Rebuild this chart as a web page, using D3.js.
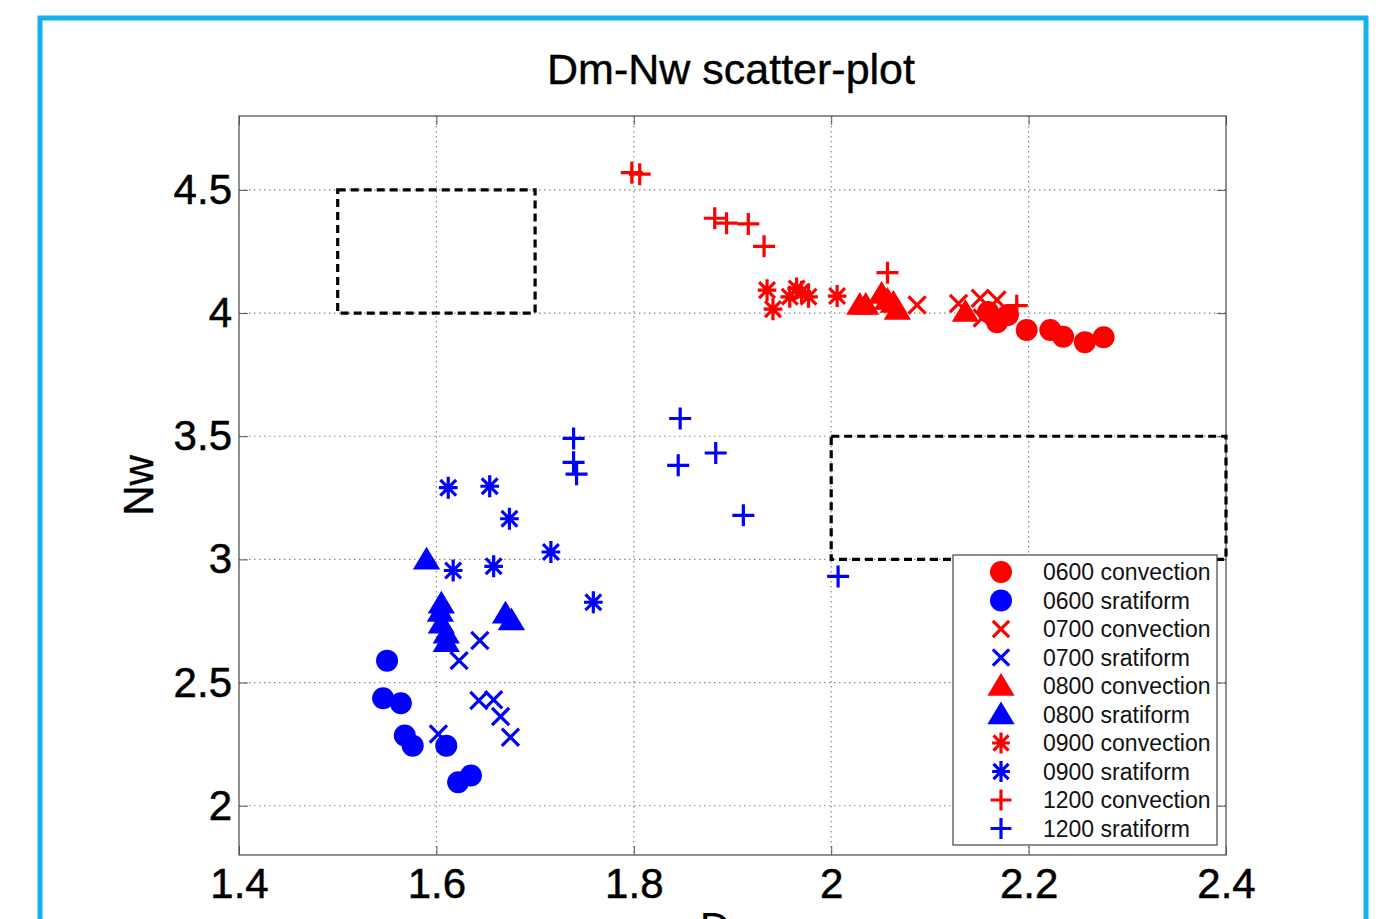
<!DOCTYPE html>
<html>
<head>
<meta charset="utf-8">
<script src="https://cdn.jsdelivr.net/npm/d3@7"></script>
<style>
  body { margin: 0; background: #fff; }
  svg { display: block; font-family: "Liberation Sans", Arial, sans-serif; }
</style>
</head>
<body>
<svg id="chart" width="1378" height="919"></svg>
<script>
// Dm / Nw readings per hour and rain type
const conv0600 = [[2.159, 4.004], [2.168, 3.963], [2.179, 3.992], [2.198, 3.931], [2.222, 3.931], [2.235, 3.904], [2.257, 3.882], [2.276, 3.902]];
const strat0600 = [[1.550, 2.589], [1.546, 2.436], [1.564, 2.416], [1.568, 2.285], [1.576, 2.244], [1.610, 2.244], [1.622, 2.095], [1.635, 2.123]];
const conv0700 = [[2.087, 4.033], [2.129, 4.039], [2.151, 4.060], [2.168, 4.053], [2.153, 3.980]];
const strat0700 = [[1.644, 2.671], [1.623, 2.589], [1.643, 2.427], [1.658, 2.430], [1.665, 2.362], [1.675, 2.278], [1.602, 2.291]];
const conv0800 = [[2.029, 4.033], [2.035, 4.033], [2.051, 4.077], [2.057, 4.053], [2.063, 4.041], [2.067, 4.012], [2.136, 4.004]];
const strat0800 = [[1.590, 2.999], [1.605, 2.820], [1.604, 2.786], [1.605, 2.739], [1.610, 2.698], [1.610, 2.664], [1.670, 2.779], [1.676, 2.752]];
const conv0900 = [[1.935, 4.093], [1.941, 4.016], [1.958, 4.066], [1.965, 4.100], [1.970, 4.087], [1.977, 4.066], [2.006, 4.069]];
const strat0900 = [[1.612, 3.291], [1.654, 3.297], [1.674, 3.165], [1.716, 3.030], [1.617, 2.955], [1.658, 2.972], [1.759, 2.826]];
const conv1200 = [[1.798, 4.570], [1.806, 4.564], [1.882, 4.385], [1.894, 4.365], [1.916, 4.362], [1.932, 4.271], [2.057, 4.164], [2.188, 4.030]];
const strat1200 = [[1.739, 3.491], [1.739, 3.394], [1.742, 3.346], [1.847, 3.572], [1.845, 3.382], [1.883, 3.432], [1.911, 3.179], [2.007, 2.931]];

const xTicks = [1.4, 1.6, 1.8, 2, 2.2, 2.4];
const yTicks = [2, 2.5, 3, 3.5, 4, 4.5];

// dashed reference boxes [x0, x1, y0, y1]
const boxes = [[1.5, 1.7, 4.0, 4.5], [2.0, 2.4, 3.0, 3.5]];

const series = [
  { label: '0600 convection', color: '#ff0000', shape: 'circle', data: conv0600 },
  { label: '0600 sratiform', color: '#0000ff', shape: 'circle', data: strat0600 },
  { label: '0700 convection', color: '#ff0000', shape: 'x', data: conv0700 },
  { label: '0700 sratiform', color: '#0000ff', shape: 'x', data: strat0700 },
  { label: '0800 convection', color: '#ff0000', shape: 'triangle', data: conv0800 },
  { label: '0800 sratiform', color: '#0000ff', shape: 'triangle', data: strat0800 },
  { label: '0900 convection', color: '#ff0000', shape: 'star', data: conv0900 },
  { label: '0900 sratiform', color: '#0000ff', shape: 'star', data: strat0900 },
  { label: '1200 convection', color: '#ff0000', shape: 'plus', data: conv1200 },
  { label: '1200 sratiform', color: '#0000ff', shape: 'plus', data: strat1200 }
];

const svg = d3.select('#chart');
const plot = { left: 239, right: 1226, top: 116, bottom: 855 };

const x = d3.scaleLinear().domain([1.4, 2.4]).range([plot.left, plot.right]);
const y = d3.scaleLinear().domain([1.8, 4.8]).range([plot.bottom, plot.top]);

// outer cyan frame
svg.append('rect')
  .attr('x', 40).attr('y', 18).attr('width', 1326).attr('height', 940)
  .attr('fill', 'none').attr('stroke', '#12b2ee').attr('stroke-width', 5);

svg.append('text')
  .attr('x', 731).attr('y', 84)
  .attr('text-anchor', 'middle')
  .attr('font-size', 43)
  .attr('stroke', '#000').attr('stroke-width', 0.4)
  .text('Dm-Nw scatter-plot');

// grid
const grid = svg.append('g').attr('stroke', '#888').attr('stroke-width', 1.2)
  .attr('stroke-dasharray', '1.5,3.5');
xTicks.slice(1, -1).forEach(t => {
  grid.append('line').attr('x1', x(t)).attr('x2', x(t)).attr('y1', plot.top).attr('y2', plot.bottom);
});
yTicks.forEach(t => {
  grid.append('line').attr('x1', plot.left).attr('x2', plot.right).attr('y1', y(t)).attr('y2', y(t));
});

// axes (inward ticks on all four sides)
const axisStyle = g => {
  g.selectAll('.domain').remove();
  g.selectAll('line').attr('stroke', '#555');
  g.selectAll('text').attr('font-size', 42).attr('fill', '#000')
    .attr('stroke', '#000').attr('stroke-width', 0.5);
};
svg.append('g').attr('transform', `translate(0,${plot.bottom})`)
  .call(d3.axisBottom(x).tickValues(xTicks).tickSizeInner(-9).tickSizeOuter(0).tickPadding(13).tickFormat(d3.format('')))
  .call(axisStyle)
  .selectAll('text').attr('dy', '0.71em');
svg.append('g').attr('transform', `translate(0,${plot.top})`)
  .call(d3.axisTop(x).tickValues(xTicks).tickSizeInner(-9).tickSizeOuter(0).tickFormat(''))
  .call(axisStyle);
svg.append('g').attr('transform', `translate(${plot.left},0)`)
  .call(d3.axisLeft(y).tickValues(yTicks).tickSizeInner(-9).tickSizeOuter(0).tickPadding(7).tickFormat(d3.format('')))
  .call(axisStyle);
svg.append('g').attr('transform', `translate(${plot.right},0)`)
  .call(d3.axisRight(y).tickValues(yTicks).tickSizeInner(-9).tickSizeOuter(0).tickFormat(''))
  .call(axisStyle);

svg.append('rect')
  .attr('x', plot.left).attr('y', plot.top)
  .attr('width', plot.right - plot.left).attr('height', plot.bottom - plot.top)
  .attr('fill', 'none').attr('stroke', '#555').attr('stroke-width', 1.3);

svg.append('text')
  .attr('transform', `translate(153,${(plot.top + plot.bottom) / 2}) rotate(-90)`)
  .attr('text-anchor', 'middle')
  .attr('font-size', 42)
  .attr('stroke', '#000').attr('stroke-width', 0.4)
  .text('Nw');
svg.append('text')
  .attr('x', (plot.left + plot.right) / 2).attr('y', 942)
  .attr('text-anchor', 'middle')
  .attr('font-size', 42)
  .text('Dm');

// dashed boxes
svg.append('g').selectAll('rect').data(boxes).join('rect')
  .attr('x', d => x(d[0])).attr('y', d => y(d[3]))
  .attr('width', d => x(d[1]) - x(d[0])).attr('height', d => y(d[2]) - y(d[3]))
  .attr('fill', 'none').attr('stroke', '#000').attr('stroke-width', 3.2)
  .attr('stroke-dasharray', '8,5');

// marker drawing
function marker(g, shape, color, scale = 1) {
  const r = 11 * scale;
  if (shape === 'circle') {
    g.append('circle').attr('r', r).attr('fill', color);
  } else if (shape === 'triangle') {
    const h = 13 * scale;
    g.append('path').attr('d', `M0,${-h}L${h * 1.05},${h * 0.75}L${-h * 1.05},${h * 0.75}Z`).attr('fill', color);
  } else {
    let d;
    const a = 11 * scale;
    if (shape === 'plus') d = `M${-a},0H${a}M0,${-a}V${a}`;
    else if (shape === 'x') { const b = a * 0.78; d = `M${-b},${-b}L${b},${b}M${-b},${b}L${b},${-b}`; }
    else { const b = a * 0.72, c = a * 0.85; d = `M${-c},0H${c}M${-b},${-b}L${b},${b}M${-b},${b}L${b},${-b}M0,${-a}V${a}`; }
    g.append('path').attr('d', d).attr('fill', 'none').attr('stroke', color).attr('stroke-width', 3.2);
  }
}

const pts = svg.append('g');
series.forEach(s => {
  s.data.forEach(p => {
    const g = pts.append('g').attr('transform', `translate(${x(p[0])},${y(p[1])})`);
    marker(g, s.shape, s.color);
  });
});

// legend
const legend = svg.append('g').attr('transform', 'translate(953,555)');
legend.append('rect').attr('width', 264).attr('height', 290)
  .attr('fill', '#fff').attr('stroke', '#444').attr('stroke-width', 1.2);
series.forEach((s, i) => {
  const row = legend.append('g').attr('transform', `translate(0,${17 + i * 28.5})`);
  const m = row.append('g').attr('transform', 'translate(48,0)');
  marker(m, s.shape, s.color, s.shape === 'circle' || s.shape === 'triangle' ? 1 : 0.95);
  row.append('text').attr('x', 90).attr('y', 0).attr('dy', '0.36em')
    .attr('font-size', 23).attr('fill', '#111').text(s.label);
});
</script>
</body>
</html>
